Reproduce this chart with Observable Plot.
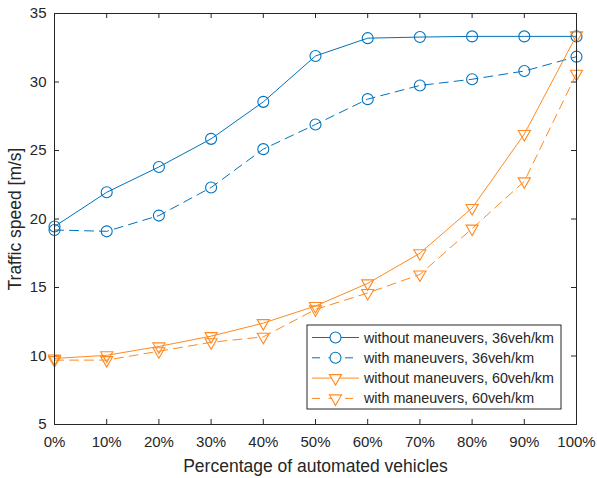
<!DOCTYPE html>
<html>
<head>
<meta charset="utf-8">
<script src="https://cdn.jsdelivr.net/npm/d3@7"></script>
<script src="https://cdn.jsdelivr.net/npm/@observablehq/plot@0.6"></script>
<style>
  body { margin: 0; background: #fff; }
  #chart svg { font-family: "Liberation Sans", Arial, Helvetica, sans-serif; }
</style>
</head>
<body>
<div id="chart"></div>
<script>
// Share of automated vehicles (%)
const penetration = [0, 10, 20, 30, 40, 50, 60, 70, 80, 90, 100];

// Mean traffic speed (m/s) for each scenario
const speed36Without = [19.45, 21.95, 23.8, 25.85, 28.55, 31.9, 33.2, 33.28, 33.33, 33.33, 33.33];
const speed36With    = [19.2, 19.1, 20.25, 22.3, 25.1, 26.9, 28.75, 29.75, 30.2, 30.8, 31.85];
const speed60Without = [9.82, 10.05, 10.7, 11.45, 12.4, 13.65, 15.3, 17.5, 20.8, 26.2, 33.4];
const speed60With    = [9.7, 9.7, 10.35, 11.0, 11.4, 13.4, 14.6, 15.95, 19.3, 22.75, 30.6];

const seriesNames = [
  "without maneuvers, 36veh/km",
  "with maneuvers, 36veh/km",
  "without maneuvers, 60veh/km",
  "with maneuvers, 60veh/km"
];

const xTicks = [0, 10, 20, 30, 40, 50, 60, 70, 80, 90, 100];
const xTickLabels = ["0%", "10%", "20%", "30%", "40%", "50%", "60%", "70%", "80%", "90%", "100%"];
const yTicks = [5, 10, 15, 20, 25, 30, 35];

const blue = "#0072BD";
const orange = "#FF8A1F";
const ink = "#262626";

const W = 597, H = 478;
const mL = 54, mR = 21, mT = 13, mB = 54;
const innerW = W - mL - mR, innerH = H - mT - mB, tickLen = 5;

const seriesValues = [speed36Without, speed36With, speed60Without, speed60With];
const seriesStyle = [
  {color: blue, dash: null, symbol: "circle"},
  {color: blue, dash: "9,6", symbol: "circle"},
  {color: orange, dash: null, symbol: "triangle"},
  {color: orange, dash: "9,6", symbol: "triangle"}
];

const rows = [];
seriesValues.forEach((vals, s) => {
  vals.forEach((v, i) => rows.push({series: seriesNames[s], x: penetration[i], y: v}));
});

const marks = [];
seriesNames.forEach((name, s) => {
  const data = rows.filter(d => d.series === name);
  const st = seriesStyle[s];
  marks.push(Plot.line(data, {
    x: "x", y: "y", stroke: st.color, strokeWidth: 1,
    strokeDasharray: st.dash ?? undefined
  }));
  marks.push(Plot.dot(data, {
    x: "x", y: "y", stroke: st.color, strokeWidth: 1.1, fill: "none",
    symbol: st.symbol,
    r: st.symbol === "circle" ? 5.5 : 4.5,
    rotate: st.symbol === "triangle" ? 180 : 0
  }));
});

const chart = Plot.plot({
  width: W,
  height: H,
  marginLeft: mL,
  marginRight: mR,
  marginTop: mT,
  marginBottom: mB,
  style: {color: ink, fontSize: "15px", background: "#fff"},
  x: {domain: [0, 100]},
  y: {domain: [5, 35]},
  marks: [
    // inward tick marks on all four sides of the box
    Plot.tickX(xTicks, {x: d => d, stroke: ink, insetTop: innerH - tickLen}),
    Plot.tickX(xTicks, {x: d => d, stroke: ink, insetBottom: innerH - tickLen}),
    Plot.tickY(yTicks, {y: d => d, stroke: ink, insetRight: innerW - tickLen}),
    Plot.tickY(yTicks, {y: d => d, stroke: ink, insetLeft: innerW - tickLen}),
    // tick labels and axis titles
    Plot.axisX({anchor: "bottom", ticks: xTicks, tickSize: 0, tickPadding: 12,
      tickFormat: d => xTickLabels[xTicks.indexOf(d)], fill: ink,
      label: "Percentage of automated vehicles", labelAnchor: "center", labelArrow: "none", labelOffset: 47}),
    Plot.axisY({anchor: "left", ticks: yTicks, tickSize: 0, tickPadding: 8, fill: ink,
      label: "Traffic speed [m/s]", labelAnchor: "center", labelArrow: "none", labelOffset: 46}),
    ...marks,
    Plot.frame({stroke: ink, strokeWidth: 1})
  ]
});

document.getElementById("chart").appendChild(chart);

const svg = d3.select(chart);
svg.selectAll("g[aria-label='x-axis tick label'], g[aria-label='y-axis tick label']")
  .attr("font-size", 15).attr("fill", ink);
svg.selectAll("g[aria-label='x-axis label'], g[aria-label='y-axis label']")
  .attr("font-size", 17.5).attr("fill", ink);

// legend box in the lower right of the plot area
const lg = svg.append("g").attr("class", "legend").attr("text-anchor", "start");
const lx = 307, ly = 325, lw = 254, lh = 84, rowH = 20.3;
lg.append("rect").attr("x", lx).attr("y", ly).attr("width", lw).attr("height", lh)
  .attr("fill", "#fff").attr("stroke", ink).attr("stroke-width", 1);
seriesNames.forEach((name, s) => {
  const st = seriesStyle[s];
  const cy = ly + 12.5 + s * rowH;
  lg.append("line").attr("x1", lx + 5).attr("x2", lx + 52).attr("y1", cy).attr("y2", cy)
    .attr("stroke", st.color).attr("stroke-width", 1)
    .attr("stroke-dasharray", st.dash ? "8,8.5" : null);
  if (st.symbol === "circle") {
    lg.append("circle").attr("cx", lx + 28.5).attr("cy", cy).attr("r", 5.5)
      .attr("fill", "#fff").attr("stroke", st.color).attr("stroke-width", 1.1);
  } else {
    const sym = d3.symbol(d3.symbolTriangle, 4.5 * 4.5 * Math.PI)();
    lg.append("path").attr("d", sym)
      .attr("transform", `translate(${lx + 28.5},${cy}) rotate(180)`)
      .attr("fill", "#fff").attr("stroke", st.color).attr("stroke-width", 1.1);
  }
  lg.append("text").attr("x", lx + 57).attr("y", cy).attr("dy", "0.35em")
    .attr("font-size", 14.3).attr("fill", ink).text(name);
});
</script>
</body>
</html>
